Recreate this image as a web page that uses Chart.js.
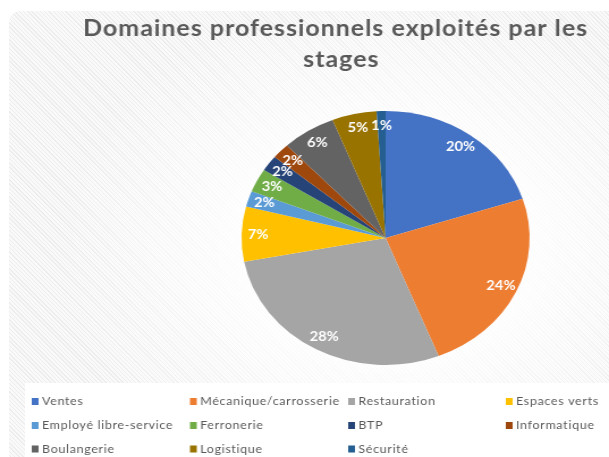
<!DOCTYPE html>
<html>
<head>
<meta charset="utf-8">
<script src="https://cdn.jsdelivr.net/npm/chart.js@4.4.1/dist/chart.umd.min.js"></script>
<style>
  html, body { margin: 0; padding: 0; background: #ffffff; }
  body { width: 609px; height: 457px; overflow: hidden; position: relative; }
  #card {
    position: absolute; left: 9px; top: 11px; width: 660px; height: 500px;
    border-radius: 12px;
    background:
      radial-gradient(ellipse 330px 250px at 377px 235px, rgba(255,255,255,1) 35%, rgba(255,255,255,0) 100%),
      repeating-linear-gradient(45deg, #ededed 0px, #ededed 1px, #f9f9f9 1px, #f9f9f9 3px);
  }
  #legendbg { position: absolute; left: 25px; top: 383px; width: 620px; height: 100px; background: #ffffff; }
  #wrap { position: absolute; left: 0; top: 0; width: 537px; height: 457px; transform: scaleX(1.1341); transform-origin: 0 0; }
  canvas { display: block; }
</style>
</head>
<body>
<div id="card"></div>
<div id="legendbg"></div>
<div id="wrap"><canvas id="c" width="537" height="457"></canvas></div>
<script>
const titleLines = ["Domaines professionnels exploités par les", "stages"];
const categories = ["Ventes", "Mécanique/carrosserie", "Restauration", "Espaces verts",
  "Employé libre-service", "Ferronerie", "BTP", "Informatique",
  "Boulangerie", "Logistique", "Sécurité"];
const values = [20, 24, 28, 7, 2, 3, 2, 2, 6, 5, 1];
const sliceColors = ["#4472C4", "#ED7D31", "#A5A5A5", "#FFC000", "#5B9BD5", "#70AD47",
  "#264478", "#9E480E", "#636363", "#997300", "#255E91"];

const FONT = "Lato, 'Open Sans', sans-serif";

const titlePlugin = {
  id: 'customTitle',
  afterDraw(chart) {
    const ctx = chart.ctx;
    ctx.save();
    ctx.fillStyle = '#595959';
    ctx.font = "bold 22px " + FONT;
    ctx.letterSpacing = '0.9px';
    ctx.textAlign = 'center';
    ctx.textBaseline = 'alphabetic';
    ctx.fillText(titleLines[0], 296, 36);
    ctx.fillText(titleLines[1], 301, 67);
    ctx.restore();
  }
};

const labelPlugin = {
  id: 'sliceLabels',
  afterDatasetsDraw(chart) {
    const ctx = chart.ctx;
    const meta = chart.getDatasetMeta(0);
    const data = chart.data.datasets[0].data;
    const total = data.reduce((a, b) => a + b, 0);
    ctx.save();
    ctx.fillStyle = '#ffffff';
    ctx.font = "bold 13px " + FONT;
    ctx.textAlign = 'center';
    ctx.textBaseline = 'middle';
    meta.data.forEach((arc, i) => {
      const p = arc.getProps(['x', 'y', 'startAngle', 'endAngle', 'outerRadius'], true);
      const mid = (p.startAngle + p.endAngle) / 2;
      const r = p.outerRadius * 0.885;
      const x = p.x + Math.cos(mid) * r;
      const y = p.y + Math.sin(mid) * r;
      ctx.fillText(Math.round(data[i] / total * 100) + '%', x, y);
    });
    ctx.restore();
  }
};

const legendPlugin = {
  id: 'gridLegend',
  afterDraw(chart) {
    const ctx = chart.ctx;
    const colX = [28, 167.5, 307, 446];
    const rowY = [401.5, 425.5, 449];
    const labels = chart.data.labels;
    const colors = chart.data.datasets[0].backgroundColor;
    ctx.save();
    ctx.font = "11px " + FONT;
    ctx.letterSpacing = '0.6px';
    ctx.textBaseline = 'middle';
    ctx.textAlign = 'left';
    labels.forEach((lab, i) => {
      const col = i % 4, row = Math.floor(i / 4);
      const x = colX[col], y = rowY[row];
      ctx.fillStyle = colors[i];
      ctx.fillRect(x, y - 3.5, 6, 7);
      ctx.fillStyle = '#595959';
      ctx.fillText(lab, x + 9, y);
    });
    ctx.restore();
  }
};

new Chart(document.getElementById('c'), {
  type: 'pie',
  data: {
    labels: categories,
    datasets: [{
      data: values,
      backgroundColor: sliceColors,
      borderWidth: 0,
      hoverOffset: 0
    }]
  },
  options: {
    responsive: false,
    animation: false,
    layout: { padding: { left: 143, right: 0, top: 111, bottom: 92 } },
    plugins: {
      legend: { display: false },
      title: { display: false },
      tooltip: { enabled: false }
    }
  },
  plugins: [titlePlugin, labelPlugin, legendPlugin]
});
</script>
</body>
</html>
